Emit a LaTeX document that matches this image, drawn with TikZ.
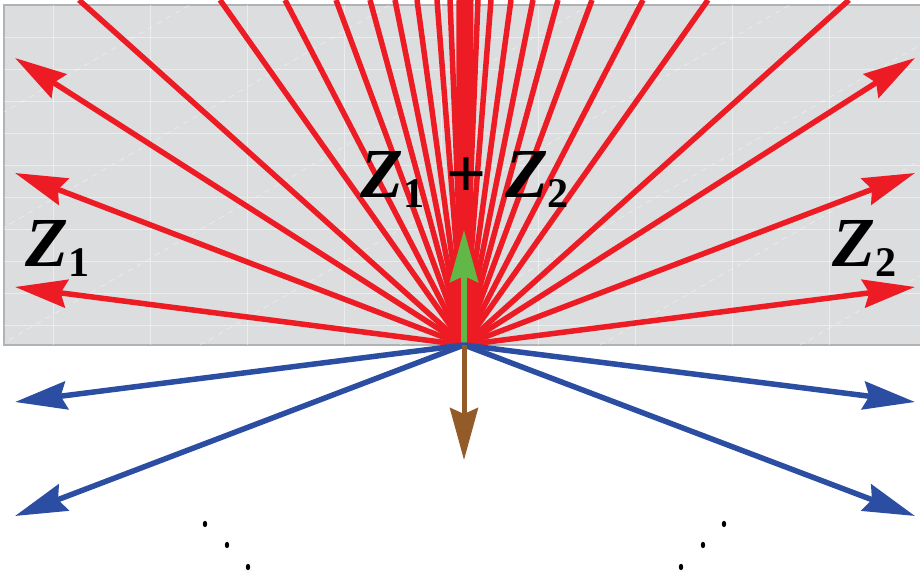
\documentclass[tikz,border=0pt]{standalone}
\usepackage{fontspec}
\setmainfont{Liberation Serif}
\usetikzlibrary{arrows.meta}

\definecolor{rayred}{HTML}{ED1C24}
\definecolor{rayblue}{HTML}{2B4EA2}
\definecolor{raygreen}{HTML}{62B846}
\definecolor{raybrown}{HTML}{935B27}
\definecolor{slabgray}{HTML}{DCDDDF}
\definecolor{slabedge}{HTML}{B1B2B4}

\newcommand{\zlabel}[1]{{\bfseries\itshape Z}\raisebox{-2mm}{\fontsize{24}{24}\selectfont\bfseries #1}}

\begin{document}
\begin{tikzpicture}[
    x=0.2mm, y=-0.2mm,
    %% -- Background slab ---------------------------------------------------
    slab/.style={fill=slabgray, draw=slabedge, line width=0.3mm},
    slabgrid/.style={draw=white, opacity=0.45, line width=0.15mm},
    %% -- Rays ---------------------------------------------------------------
    %%   ray: plain red line, head: big stealth tip used by all arrows
    ray/.style={line width=1.1mm, color=rayred},
    head/.style={-{Stealth[length=10.4mm, width=5.6mm, inset=1.2mm]}},
    blueray/.style={head, line width=1.1mm, color=rayblue},
    greenray/.style={head, line width=1.2mm, color=raygreen},
    brownray/.style={head, line width=1mm, color=raybrown},
    %% -- Labels -------------------------------------------------------------
    zlab/.style={inner sep=0pt, font=\fontsize{40}{44}\selectfont},
]

\useasboundingbox (0,0) rectangle (920,577);

%% -- Background slab -----------------------------------------------------
\draw[slab] (4,5) rectangle (924,345);
\begin{scope}
  \clip (4,5) rectangle (924,345);
  \foreach \x in {53,150,...,920} \draw[slabgrid] (\x,5) -- (\x,345);
  \foreach \y in {37,69,...,345} \draw[slabgrid] (4,\y) -- (924,\y);
  \foreach \x in {-600,-400,...,900} \draw[slabgrid, dashed] (\x,345) -- ++(600,-346);
\end{scope}

%% -- Source point and end points ------------------------------------------
\coordinate (O) at (464,345);
\coordinate (top) at (465,0);

\coordinate (L1) at (15,287);
\coordinate (L2) at (15,173);
\coordinate (L3) at (15,58);
\coordinate (R1) at (915,287);
\coordinate (R2) at (915,173);
\coordinate (R3) at (915,58);

\coordinate (BL1) at (15,402);
\coordinate (BL2) at (15,516);
\coordinate (BR1) at (915,402);
\coordinate (BR2) at (915,516);

\coordinate (up) at (464,230);
\coordinate (down) at (464,460);

%% -- Red rays ------------------------------------------------------------
\foreach \d [count=\i] in {385,244,179,128,94,69,47,27,14} {
  \coordinate (tl\i) at (464-\d,0);
  \coordinate (tr\i) at (464+\d,0);
  \draw[ray] (O) -- (tl\i);
  \draw[ray] (O) -- (tr\i);
}
\draw[ray, line width=3.4mm] (O) -- (top);

\foreach \e in {L1,L2,L3,R1,R2,R3}
  \draw[ray, head] (O) -- (\e);

%% -- Normal vectors --------------------------------------------------------
\draw[greenray] (O) -- (up);

%% -- Blue rays and brown vector ---------------------------------------------
\foreach \e in {BL1,BL2,BR1,BR2}
  \draw[blueray] (O) -- (\e);
\draw[brownray] (O) -- (down);

%% -- Labels ----------------------------------------------------------------
\node[zlab, anchor=base west] (zone) at (25,267) {\zlabel{1}};
\node[zlab, anchor=base west] (ztwo) at (832,267) {\zlabel{2}};
\node[zlab, anchor=base] (zsum) at (465,198)
  {\zlabel{1}\hspace{4.4mm}{\bfseries+}\hspace{3.6mm}\zlabel{2}};

%% -- Continuation dots -------------------------------------------------------
\foreach \x/\y in {205/524,227/545,248/567,724/524,703/545,681/567}
  \fill (\x,\y) ellipse [x radius=2.2, y radius=3.2];

\end{tikzpicture}
\end{document}
